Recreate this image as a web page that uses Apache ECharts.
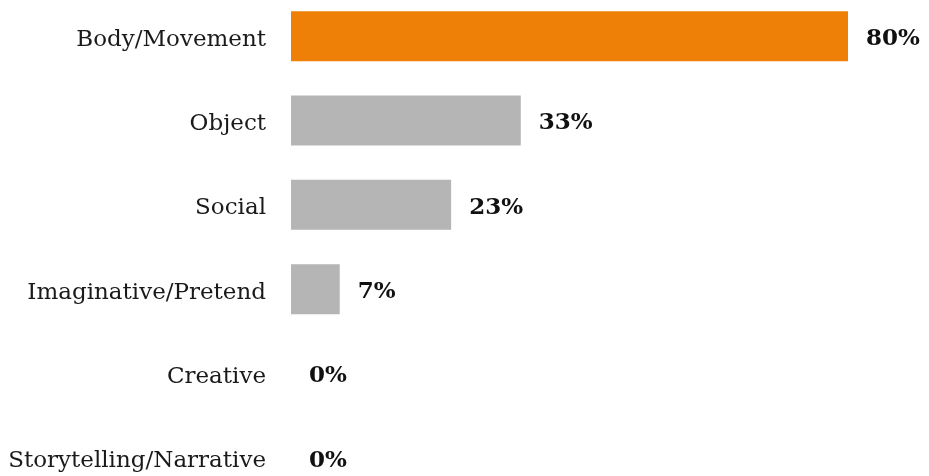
<!DOCTYPE html>
<html>
<head>
<meta charset="utf-8">
<script src="https://cdn.jsdelivr.net/npm/echarts@6/dist/echarts.min.js"></script>
<style>
html,body{margin:0;padding:0;background:#fff;overflow:hidden;width:929px;height:476px;}
#chart{position:absolute;left:0;top:-6px;width:929px;height:506px;}
</style>
</head>
<body>
<div id="chart"></div>
<script>
var categories = ["Body/Movement", "Object", "Social", "Imaginative/Pretend", "Creative", "Storytelling/Narrative"];
var values = [80, 33, 23, 7, 0, 0];
var barColors = ["#EE8008", "#B5B5B5", "#B5B5B5", "#B5B5B5", "#B5B5B5", "#B5B5B5"];

var chart = echarts.init(document.getElementById('chart'), null, {renderer: 'canvas'});
var FONT = '"DejaVu Serif", "Liberation Serif", serif';
chart.setOption({
  animation: false,
  grid: {left: 291, right: 81, top: 0, bottom: 0, containLabel: false},
  xAxis: {
    type: 'value', min: 0, max: 80,
    show: false
  },
  yAxis: {
    type: 'category', inverse: true,
    data: categories,
    axisLine: {show: false}, axisTick: {show: false},
    axisLabel: {color: '#1a1a1a', fontFamily: FONT, fontSize: 23, margin: 25,
                verticalAlign: 'top', lineHeight: 7}
  },
  series: [{
    type: 'bar',
    barWidth: 50,
    data: values.map(function (v, i) { return {value: v, itemStyle: {color: barColors[i]}}; }),
    label: {
      show: true, position: 'right', distance: 18, offset: [0, 3],
      formatter: '{c}%',
      color: '#111', fontFamily: FONT, fontWeight: 'bold', fontSize: 23
    }
  }]
});
</script>
</body>
</html>
